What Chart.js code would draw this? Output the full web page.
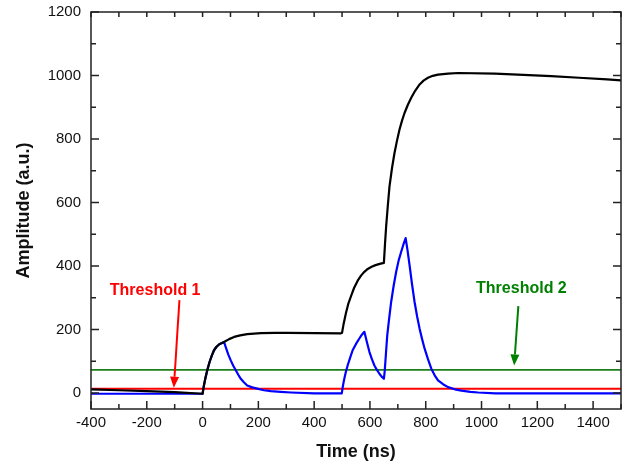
<!DOCTYPE html>
<html>
<head>
<meta charset="utf-8">
<script src="https://cdn.jsdelivr.net/npm/chart.js@4.4.1/dist/chart.umd.min.js"></script>
<style>
html, body { margin: 0; padding: 0; background: #fff; }
#wrap { width: 630px; height: 470px; }
</style>
</head>
<body>
<div id="wrap"><canvas id="signalChart" width="630" height="470"></canvas></div>
<script>
// integrated signal (black)
const integralTime = [-400, -300, -200, -100, 0, 5, 10, 17, 25, 33, 41, 50, 60, 77, 95, 113, 135, 160, 209, 260, 305, 400, 496,
    500, 505, 514, 522, 532, 543, 556, 568, 580, 592, 606, 620, 635, 650,
    654, 658, 664, 670, 679, 688, 697, 706, 715, 724, 736, 748, 762, 778, 792, 808, 825, 844, 880, 916,
    1048, 1150, 1250, 1350, 1450, 1500];
const integralAmp = [12, 9, 6, 3, -2, 25, 47, 73, 98, 118, 135, 146, 154, 161, 170, 177, 182, 186, 189, 190, 190, 189, 188,
    190, 215, 252, 280, 305, 331, 354, 370, 382, 391, 398, 403, 407, 410,
    470, 524, 590, 650, 708, 756, 795, 830, 858, 882, 908, 930, 952, 972, 984, 993, 999, 1003, 1006, 1008,
    1006, 1002, 998, 993, 988, 985];

// shaped pulses (blue)
const pulseTime = [-400, 0, 5, 10, 17, 25, 33, 41, 50, 60, 77, 83, 92, 101, 110, 119, 128, 137, 148, 160, 178, 196, 220, 245, 280, 317, 400, 499,
    503, 508, 514, 520, 529, 538, 550, 562, 571, 580, 589, 598, 607, 616, 625, 634, 642, 650,
    653, 657, 662, 669, 676, 685, 694, 703, 712, 720, 728, 735, 742, 751, 760, 769, 778, 787, 796, 808, 820, 832, 844, 862, 880, 904, 928, 960, 988, 1050, 1500];
const pulseAmp = [-2, -2, 25, 47, 73, 98, 118, 135, 146, 154, 161, 145, 122, 103, 86, 72, 58, 45, 34, 24, 18, 14, 9, 6, 4, 2, -1, -1,
    22, 45, 68, 87, 112, 135, 155, 172, 184, 193, 161, 130, 107, 87, 73, 61, 52, 45,
    70, 120, 182, 236, 287, 338, 382, 418, 445, 468, 488, 448, 403, 342, 287, 242, 203, 170, 140, 107, 77, 56, 40, 28, 19, 12, 8, 4, 2, -1, -1];

const thresholdRange = [-400, 1500];
const threshold1 = 14;
const threshold2 = 73;

const xTicks = [-400, -200, 0, 200, 400, 600, 800, 1000, 1200, 1400];
const yTicks = [0, 200, 400, 600, 800, 1000, 1200];

function toPoints(xs, ys) {
    return xs.map((x, i) => ({ x: x, y: ys[i] }));
}

const notes = [
    { text: 'Threshold 1', color: '#ff0000', at: [-170, 324], from: [-83, 293], to: [-103, 17] },
    { text: 'Threshold 2', color: '#008000', at: [1143, 329], from: [1132, 274], to: [1117, 87] }
];

const frameAndNotes = {
    id: 'frameAndNotes',
    afterDatasetsDraw(chart) {
        const { ctx, chartArea: a, scales: { x, y } } = chart;
        ctx.save();
        ctx.strokeStyle = '#222';
        ctx.lineWidth = 1.5;
        ctx.beginPath();
        // ticks on all four sides, pointing inward (top ones shorter)
        xTicks.forEach(v => {
            [[v, 8], [v + 100, 5]].forEach(([t, len]) => {
                if (t > x.max) return;
                const px = x.getPixelForValue(t);
                ctx.moveTo(px, a.bottom); ctx.lineTo(px, a.bottom - len);
                ctx.moveTo(px, a.top); ctx.lineTo(px, a.top + 5);
            });
        });
        yTicks.forEach(v => {
            [[v, 8], [v + 100, 5]].forEach(([t, len]) => {
                if (t > y.max) return;
                const py = y.getPixelForValue(t);
                ctx.moveTo(a.left, py); ctx.lineTo(a.left + len, py);
                ctx.moveTo(a.right, py); ctx.lineTo(a.right - len, py);
            });
        });
        ctx.stroke();
        ctx.strokeRect(a.left, a.top, a.right - a.left, a.bottom - a.top);

        // threshold labels and arrows
        notes.forEach(n => {
            ctx.fillStyle = n.color;
            ctx.strokeStyle = n.color;
            ctx.font = 'bold 16px "Liberation Sans", Arial, sans-serif';
            ctx.textAlign = 'center';
            ctx.textBaseline = 'middle';
            ctx.fillText(n.text, x.getPixelForValue(n.at[0]), y.getPixelForValue(n.at[1]));

            const x0 = x.getPixelForValue(n.from[0]), y0 = y.getPixelForValue(n.from[1]);
            const x1 = x.getPixelForValue(n.to[0]), y1 = y.getPixelForValue(n.to[1]);
            const ang = Math.atan2(y1 - y0, x1 - x0);
            const head = 11, half = 4.5;
            const bx = x1 - head * Math.cos(ang), by = y1 - head * Math.sin(ang);
            ctx.lineWidth = 2;
            ctx.beginPath();
            ctx.moveTo(x0, y0);
            ctx.lineTo(bx, by);
            ctx.stroke();
            ctx.beginPath();
            ctx.moveTo(x1, y1);
            ctx.lineTo(bx + half * Math.sin(ang), by - half * Math.cos(ang));
            ctx.lineTo(bx - half * Math.sin(ang), by + half * Math.cos(ang));
            ctx.closePath();
            ctx.fill();
        });
        ctx.restore();
    }
};

const ctx = document.getElementById('signalChart').getContext('2d');
const signalChart = new Chart(ctx, {
    type: 'line',
    data: {
        datasets: [{
            label: 'Integral',
            data: toPoints(integralTime, integralAmp),
            borderColor: '#000000',
            borderWidth: 2.2,
            order: 0
        }, {
            label: 'Pulse',
            data: toPoints(pulseTime, pulseAmp),
            borderColor: '#0000ff',
            borderWidth: 2.2,
            order: 1
        }, {
            label: 'Threshold 1',
            data: toPoints(thresholdRange, [threshold1, threshold1]),
            borderColor: '#ff0000',
            borderWidth: 2,
            order: 2
        }, {
            label: 'Threshold 2',
            data: toPoints(thresholdRange, [threshold2, threshold2]),
            borderColor: '#1a7f1a',
            borderWidth: 1.8,
            order: 3
        }]
    },
    options: {
        responsive: false,
        animation: false,
        elements: { point: { radius: 0 }, line: { tension: 0, fill: false, borderJoinStyle: 'round' } },
        layout: { padding: { top: 12, right: 9, left: 0, bottom: 0 } },
        plugins: { legend: { display: false }, tooltip: { enabled: false } },
        scales: {
            x: {
                type: 'linear',
                min: -400,
                max: 1500,
                grid: { display: false, drawTicks: false, tickLength: 0 },
                border: { display: false },
                afterBuildTicks: s => { s.ticks = xTicks.map(v => ({ value: v })); },
                afterFit: s => { s.height = 61; },
                ticks: {
                    padding: 5,
                    maxRotation: 0,
                    autoSkip: false,
                    color: '#111',
                    font: { family: '"Liberation Sans", Arial, sans-serif', size: 15 },
                    callback: v => String(v)
                },
                title: {
                    display: true,
                    text: 'Time (ns)',
                    color: '#111',
                    font: { family: '"Liberation Sans", Arial, sans-serif', size: 18, weight: 'bold' },
                    padding: { top: 0, bottom: 7 }
                }
            },
            y: {
                type: 'linear',
                min: -50,
                max: 1200,
                grid: { display: false, drawTicks: false, tickLength: 0 },
                border: { display: false },
                afterBuildTicks: s => { s.ticks = yTicks.map(v => ({ value: v })); },
                afterFit: s => { s.width = 91; s.paddingTop = 0; s.paddingBottom = 0; },
                ticks: {
                    padding: 10,
                    autoSkip: false,
                    color: '#111',
                    font: { family: '"Liberation Sans", Arial, sans-serif', size: 15 },
                    callback: v => String(v)
                },
                title: {
                    display: true,
                    text: 'Amplitude (a.u.)',
                    color: '#111',
                    font: { family: '"Liberation Sans", Arial, sans-serif', size: 18, weight: 'bold' },
                    padding: { top: 13, bottom: 0 }
                }
            }
        }
    },
    plugins: [frameAndNotes]
});
</script>
</body>
</html>
